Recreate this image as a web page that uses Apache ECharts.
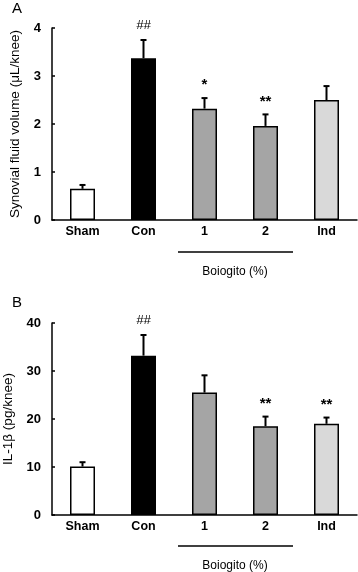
<!DOCTYPE html>
<html>
<head>
<meta charset="utf-8">
<script src="https://cdn.jsdelivr.net/npm/echarts@6/dist/echarts.min.js"></script>
<style>
html,body{margin:0;padding:0;background:#fff;}
#chart{width:358px;height:572px;}
</style>
</head>
<body>
<div id="chart"></div>
<script>
var categories = ['Sham', 'Con', '1', '2', 'Ind'];
var fluidMean = [0.65, 3.37, 2.32, 1.96, 2.5];
var fluidErr = [0.08, 0.38, 0.22, 0.24, 0.29];
var fluidMarks = ['', '##', '*', '**', ''];
var il1bMean = [10.1, 33.2, 25.5, 18.5, 19.0];
var il1bErr = [0.9, 4.3, 3.6, 2.0, 1.3];
var il1bMarks = ['', '##', '', '**', '**'];
var yTicksA = [0, 1, 2, 3, 4];
var yTicksB = [0, 10, 20, 30, 40];

var barColors = ['#ffffff', '#000000', '#a5a5a5', '#a5a5a5', '#d9d9d9'];
var font = 'Liberation Sans, Arial, sans-serif';

var myChart = echarts.init(document.getElementById('chart'));

function barData(vals) {
    return vals.map(function (v, i) {
        return {value: v, itemStyle: {color: barColors[i]}};
    });
}

function errData(vals, errs, marks) {
    return vals.map(function (v, i) {
        return [i, v, v + errs[i], marks[i]];
    });
}

function renderErr(params, api) {
    var base = api.coord([api.value(0), api.value(1)]);
    var top = api.coord([api.value(0), api.value(2)]);
    var mark = api.value(3);
    var cap = 3;
    var children = [
        {type: 'line', shape: {x1: base[0], y1: base[1], x2: top[0], y2: top[1]},
         style: {stroke: '#000', lineWidth: 2}},
        {type: 'line', shape: {x1: top[0] - cap, y1: top[1], x2: top[0] + cap, y2: top[1]},
         style: {stroke: '#000', lineWidth: 2}}
    ];
    if (mark) {
        var isHash = mark === '##';
        children.push({type: 'text', x: top[0], y: top[1] - (isHash ? 15 : 13),
            style: {text: mark, fill: '#000', font: (isHash ? 'italic 13px ' : 'bold 15px ') + font,
                    textAlign: 'center', textVerticalAlign: 'middle'}});
    }
    return {type: 'group', children: children};
}

function yAxisCfg(idx, ticks, name, gap) {
    return {
        type: 'value', gridIndex: idx,
        min: ticks[0], max: ticks[ticks.length - 1], interval: ticks[1] - ticks[0],
        name: name, nameLocation: 'middle', nameGap: gap,
        nameTextStyle: {color: '#000', fontSize: 13.5, fontFamily: font},
        axisLine: {show: true, lineStyle: {color: '#000', width: 1.5}},
        axisTick: {show: true, inside: true, length: 3, lineStyle: {color: '#000', width: 1.5}},
        axisLabel: {color: '#000', fontSize: 13, fontWeight: 'bold', fontFamily: font, margin: 11},
        splitLine: {show: false}
    };
}

function xAxisCfg(idx) {
    return {
        type: 'category', gridIndex: idx, data: categories,
        axisLine: {lineStyle: {color: '#000', width: 1.5}},
        axisTick: {inside: true, length: 3, lineStyle: {color: '#000', width: 1.5}},
        axisLabel: {color: '#000', fontSize: 12.5, fontWeight: 'bold', fontFamily: font, margin: 5}
    };
}

function groupLabel(lineY, textY) {
    return [
        {type: 'line', shape: {x1: 178, y1: lineY, x2: 293, y2: lineY},
         style: {stroke: '#000', lineWidth: 1.5}},
        {type: 'text', x: 235, y: textY,
         style: {text: 'Boiogito (%)', fill: '#000', font: '12px ' + font,
                 textAlign: 'center', textVerticalAlign: 'middle'}}
    ];
}

option = {
    animation: false,
    grid: [
        {left: 52, top: 28, width: 305, height: 192, outerBoundsMode: 'none', containLabel: false},
        {left: 52, top: 323, width: 305, height: 192, outerBoundsMode: 'none', containLabel: false}
    ],
    xAxis: [xAxisCfg(0), xAxisCfg(1)],
    yAxis: [
        yAxisCfg(0, yTicksA, 'Synovial fluid volume (μL/knee)', 30),
        yAxisCfg(1, yTicksB, 'IL-1β (pg/knee)', 37)
    ],
    graphic: [
        {type: 'text', left: 12, top: 1, style: {text: 'A', fill: '#000', font: '15px ' + font}},
        {type: 'text', left: 12, top: 295, style: {text: 'B', fill: '#000', font: '15px ' + font}}
    ].concat(groupLabel(252, 272), groupLabel(546, 566)),
    series: [
        {
            type: 'bar', xAxisIndex: 0, yAxisIndex: 0, barWidth: 25,
            itemStyle: {borderColor: '#000', borderWidth: 1.5},
            data: barData(fluidMean), z: 2
        },
        {
            type: 'custom', xAxisIndex: 0, yAxisIndex: 0, renderItem: renderErr,
            data: errData(fluidMean, fluidErr, fluidMarks), z: 1
        },
        {
            type: 'bar', xAxisIndex: 1, yAxisIndex: 1, barWidth: 25,
            itemStyle: {borderColor: '#000', borderWidth: 1.5},
            data: barData(il1bMean), z: 2
        },
        {
            type: 'custom', xAxisIndex: 1, yAxisIndex: 1, renderItem: renderErr,
            data: errData(il1bMean, il1bErr, il1bMarks), z: 1
        }
    ]
};
myChart.setOption(option);

window.addEventListener('resize', function () {
    myChart.resize();
});
</script>
</body>
</html>
